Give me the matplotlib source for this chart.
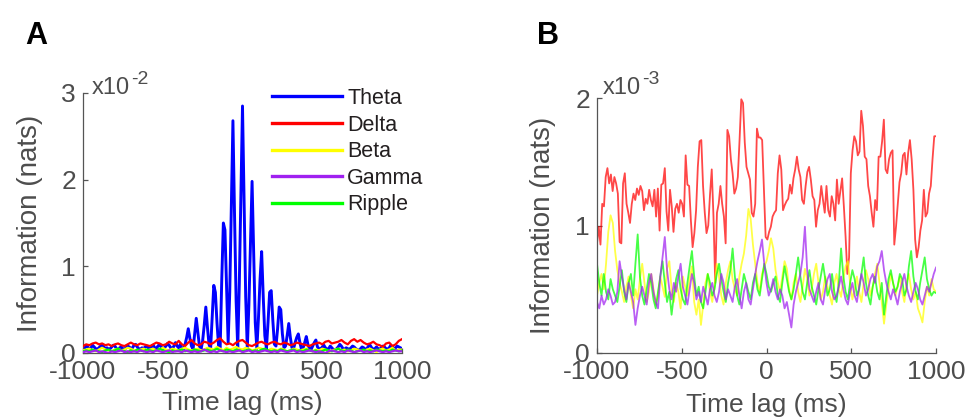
import numpy as np
import matplotlib
matplotlib.use("Agg")
import matplotlib.pyplot as plt

# ---------------- data ----------------
# Panel A (units of 1e-2 nats)
theta_a = [
    0.06,0.05,0.08,0.07,0.04,0.06,0.09,0.07,0.05,0.04,
    0.06,0.08,0.10,0.07,0.05,0.06,0.04,0.05,0.07,0.09,
    0.08,0.05,0.04,0.06,0.07,0.05,0.04,0.06,0.08,0.07,
    0.05,0.06,0.09,0.10,0.07,0.05,0.04,0.06,0.05,0.07,
    0.08,0.06,0.05,0.07,0.09,0.06,0.05,0.08,0.10,0.07,
    0.05,0.06,0.08,0.11,0.09,0.06,0.05,0.08,0.12,0.08,
    # -400 .. 470
    0.06,0.10,0.05,0.04,0.10,0.18,0.28,0.17,0.08,0.04,
    0.22,0.40,0.24,0.08,0.04,0.14,0.32,0.53,0.30,0.10,
    0.05,0.42,0.78,0.70,0.35,0.08,0.06,0.85,1.50,1.42,
    0.75,0.12,0.70,1.70,2.68,1.60,0.60,0.06,0.80,1.80,
    2.85,1.75,0.65,0.05,0.55,1.25,1.98,1.15,0.35,0.05,
    0.40,0.85,1.17,0.65,0.20,0.05,0.35,0.70,0.72,0.38,
    0.10,0.08,0.28,0.53,0.50,0.22,0.06,0.08,0.20,0.34,
    0.18,0.06,0.05,0.12,0.18,0.22,0.12,0.04,0.06,0.12,
    0.19,0.10,0.05,0.04,0.08,0.12,0.15,0.07,
    # 480 .. 1000
    0.05,0.04,0.07,0.09,0.06,0.04,0.05,0.08,0.06,0.04,
    0.03,0.05,0.07,0.10,0.08,0.05,0.04,0.06,0.05,0.04,
    0.06,0.08,0.07,0.05,0.04,0.03,0.05,0.07,0.06,0.04,
    0.05,0.08,0.09,0.06,0.04,0.05,0.07,0.05,0.04,0.06,
    0.08,0.07,0.05,0.04,0.06,0.09,0.07,0.05,0.06,0.08,
    0.07,0.06,0.05,
]
delta_a = [
    0.08,0.10,0.09,0.11,0.12,0.10,0.11,0.09,0.10,0.08,
    0.10,0.11,0.09,0.08,0.10,0.12,0.10,0.09,0.11,0.10,
    0.09,0.08,0.10,0.12,0.11,0.09,0.10,0.13,0.11,0.10,
    0.14,0.10,0.08,0.12,0.15,0.11,0.09,0.10,0.13,0.12,
    0.10,0.12,0.15,0.17,0.13,0.10,0.11,0.09,0.12,0.14,
    0.15,0.12,0.09,0.08,0.10,0.12,0.13,0.11,0.10,0.12,
    0.13,0.11,0.10,0.12,0.11,0.09,0.10,0.12,0.11,0.10,
    0.09,0.08,0.10,0.11,0.12,0.10,0.13,0.14,0.11,0.12,
    0.13,0.15,0.12,0.10,0.14,0.16,0.13,0.15,0.12,0.10,
    0.11,0.13,0.10,0.09,0.07,0.11,0.12,0.08,0.10,0.14,
    0.16,
]
beta_a = [
    0.03,0.04,0.05,0.03,0.02,0.04,0.06,0.04,0.03,0.02,
    0.04,0.05,0.03,0.04,0.06,0.05,0.03,0.02,0.04,0.05,
    0.03,0.04,0.05,0.03,0.04,0.06,0.04,0.03,0.05,0.04,
    0.03,0.05,0.06,0.04,0.03,0.04,0.05,0.03,0.04,0.06,
    0.05,0.04,0.07,0.05,0.03,0.06,0.04,0.05,0.07,0.05,
    0.04,0.06,0.05,0.03,0.04,0.06,0.05,0.04,0.03,0.05,
    0.04,0.03,0.05,0.04,0.02,0.03,0.05,0.04,0.03,0.04,
    0.05,0.03,0.02,0.04,0.03,0.05,0.04,0.01,0.03,0.04,
    0.05,0.03,0.04,0.02,0.03,0.05,0.04,0.03,0.02,0.04,
    0.05,0.03,0.01,0.04,0.05,0.03,0.04,0.06,0.03,0.04,
    0.04,
]
gamma_a = [
    0.01,0.02,0.01,0.02,0.03,0.01,0.02,0.01,0.00,0.02,
    0.01,0.02,0.03,0.01,0.02,0.01,0.02,0.01,0.03,0.02,
    0.01,0.02,0.01,0.03,0.02,0.01,0.02,0.03,0.01,0.02,
    0.02,0.01,0.03,0.02,0.01,0.02,0.01,0.02,0.04,0.02,
    0.01,0.02,0.01,0.03,0.02,0.01,0.02,0.01,0.02,0.03,
    0.01,0.02,0.03,0.01,0.02,0.01,0.02,0.03,0.02,0.01,
    0.02,0.01,0.03,0.02,0.01,0.02,0.03,0.01,0.02,0.01,
    0.02,0.03,0.02,0.01,0.02,0.01,0.00,0.02,0.03,0.02,
    0.01,0.02,0.01,0.03,0.02,0.01,0.02,0.03,0.01,0.02,
    0.01,0.02,0.03,0.02,0.01,0.02,0.01,0.02,0.03,0.02,
    0.02,
]
ripple_a = [
    0.02,0.03,0.02,0.04,0.03,0.02,0.01,0.03,0.04,0.02,
    0.03,0.05,0.03,0.02,0.01,0.03,0.02,0.04,0.03,0.02,
    0.04,0.03,0.02,0.03,0.05,0.03,0.02,0.01,0.03,0.02,
    0.03,0.04,0.02,0.03,0.02,0.04,0.03,0.02,0.03,0.04,
    0.02,0.03,0.05,0.03,0.02,0.04,0.03,0.02,0.04,0.03,
    0.02,0.03,0.04,0.02,0.03,0.02,0.04,0.05,0.03,0.02,
    0.03,0.02,0.04,0.03,0.02,0.03,0.04,0.02,0.03,0.02,
    0.04,0.03,0.02,0.03,0.01,0.02,0.04,0.03,0.02,0.03,
    0.05,0.03,0.02,0.04,0.03,0.01,0.02,0.03,0.04,0.02,
    0.03,0.02,0.04,0.03,0.02,0.03,0.02,0.04,0.03,0.02,
    0.03,
]

# Panel B (units of 1e-3 nats)
delta_b = [
    0.86,0.99,0.85,1.17,1.15,1.38,1.45,1.33,1.40,1.27,
    1.38,1.33,1.25,0.87,0.86,1.33,1.41,1.17,1.10,1.02,
    1.17,1.25,1.20,1.29,1.24,1.31,1.27,1.12,1.21,1.17,
    1.28,1.20,1.15,1.28,1.07,1.29,0.96,1.32,1.33,1.45,
    1.11,0.96,1.28,1.15,0.95,1.13,1.17,1.10,1.20,1.17,
    1.07,1.55,1.32,1.31,1.04,0.83,0.94,1.12,1.46,1.66,
    1.67,1.31,1.10,0.94,1.00,1.24,1.44,1.07,0.55,1.10,
    1.17,1.31,1.17,1.07,0.86,1.75,1.70,1.52,1.41,1.25,
    1.29,1.38,1.67,1.99,1.96,1.65,1.46,1.41,1.36,1.10,
    1.07,1.17,1.76,1.69,1.69,1.67,1.28,0.91,0.89,0.95,
    0.99,1.07,1.10,1.12,1.41,1.55,1.44,1.12,1.16,1.19,
    1.21,1.32,1.25,1.37,1.44,1.54,1.44,1.38,1.20,1.17,
    1.31,1.42,1.46,1.36,1.23,1.20,0.99,1.12,1.17,1.31,
    1.20,1.10,1.31,1.12,1.07,1.23,1.17,1.04,1.36,1.17,
    1.27,1.37,1.15,0.91,0.62,0.75,1.41,1.59,1.70,1.66,
    1.55,1.58,1.90,1.78,1.54,1.52,1.31,1.23,1.10,0.99,
    1.20,1.12,1.54,1.54,1.66,1.83,1.44,1.41,1.52,1.57,
    1.59,0.85,0.99,1.17,1.34,1.41,1.55,1.57,1.40,1.57,
    1.67,1.52,1.28,0.89,0.75,0.83,0.96,1.04,1.28,1.07,
    1.10,1.25,1.31,1.52,1.70,1.70,
]
beta_b = [
    0.45,0.55,0.62,0.50,0.70,0.95,1.08,1.02,0.80,0.65,
    0.55,0.48,0.40,0.52,0.60,0.45,0.35,0.50,0.42,0.58,
    0.70,0.55,0.40,0.48,0.62,0.50,0.38,0.45,0.60,0.52,
    0.44,0.66,0.72,0.50,0.40,0.55,0.48,0.35,0.60,0.52,
    0.45,0.58,0.68,0.40,0.30,0.42,0.22,0.38,0.55,0.62,
    0.48,0.40,0.52,0.70,0.60,0.45,0.38,0.55,0.65,0.72,
    0.58,0.50,0.45,0.60,0.70,0.78,0.92,1.13,1.05,0.85,
    0.70,0.55,0.48,0.62,0.68,0.72,0.80,0.90,0.82,0.65,
    0.55,0.48,0.60,0.72,0.66,0.50,0.42,0.55,0.62,0.48,
    0.40,0.52,0.66,0.58,0.45,0.50,0.62,0.70,0.55,0.42,
    0.48,0.60,0.52,0.45,0.38,0.55,0.62,0.50,0.44,0.58,
    0.68,0.72,0.55,0.42,0.50,0.60,0.48,0.40,0.55,0.65,
    0.58,0.45,0.52,0.62,0.70,0.55,0.40,0.23,0.38,0.50,
    0.62,0.55,0.45,0.52,0.60,0.48,0.40,0.55,0.62,0.50,
    0.42,0.48,0.35,0.30,0.24,0.40,0.52,0.45,0.58,0.50,
    0.48,
]
ripple_b = [
    0.70,0.55,0.45,0.62,0.48,0.42,0.58,0.50,0.45,0.40,
    0.52,0.65,0.48,0.40,0.55,0.62,0.45,0.70,0.93,0.60,
    0.45,0.38,0.50,0.62,0.55,0.42,0.35,0.48,0.60,0.72,
    0.55,0.40,0.48,0.30,0.45,0.58,0.65,0.50,0.42,0.38,
    0.55,0.68,0.80,0.60,0.45,0.52,0.40,0.35,0.48,0.62,
    0.55,0.45,0.50,0.62,0.70,0.58,0.48,0.40,0.55,0.65,
    0.82,0.60,0.45,0.38,0.50,0.62,0.55,0.48,0.42,0.55,
    0.62,0.50,0.45,0.58,0.70,0.62,0.52,0.48,0.55,0.60,
    0.45,0.40,0.55,0.68,0.58,0.48,0.42,0.50,0.62,0.75,
    0.60,0.48,0.42,0.55,0.65,0.52,0.45,0.38,0.50,0.60,
    0.70,0.58,0.45,0.50,0.62,0.48,0.40,0.55,0.82,0.60,
    0.48,0.42,0.55,0.65,0.58,0.45,0.50,0.62,0.75,0.55,
    0.45,0.38,0.52,0.60,0.48,0.42,0.55,0.30,0.45,0.58,
    0.65,0.55,0.48,0.52,0.62,0.58,0.45,0.50,0.68,0.80,
    0.60,0.48,0.42,0.55,0.65,0.75,0.58,0.50,0.45,0.48,
    0.47,
]
gamma_b = [
    0.40,0.35,0.45,0.38,0.42,0.50,0.45,0.38,0.40,0.48,
    0.72,0.60,0.50,0.42,0.55,0.48,0.40,0.22,0.35,0.45,
    0.52,0.45,0.38,0.55,0.62,0.48,0.40,0.35,0.60,0.75,
    0.91,0.65,0.50,0.42,0.55,0.48,0.60,0.70,0.52,0.45,
    0.38,0.50,0.62,0.55,0.42,0.48,0.40,0.52,0.45,0.38,
    0.50,0.55,0.45,0.40,0.48,0.62,0.55,0.42,0.50,0.45,
    0.40,0.52,0.58,0.45,0.35,0.48,0.55,0.42,0.38,0.50,
    0.62,0.72,0.80,0.89,0.70,0.55,0.45,0.50,0.58,0.48,
    0.42,0.50,0.45,0.35,0.40,0.30,0.20,0.38,0.48,0.55,
    0.62,0.75,0.99,0.65,0.50,0.45,0.40,0.48,0.55,0.42,
    0.38,0.50,0.58,0.62,0.48,0.42,0.45,0.52,0.60,0.50,
    0.42,0.38,0.48,0.55,0.45,0.40,0.52,0.62,0.55,0.45,
    0.50,0.58,0.62,0.55,0.68,0.72,0.80,0.65,0.55,0.48,
    0.42,0.50,0.45,0.38,0.48,0.55,0.62,0.52,0.45,0.40,
    0.48,0.55,0.50,0.42,0.38,0.45,0.52,0.48,0.55,0.62,
    0.67,
]

labels = ["Theta", "Delta", "Beta", "Gamma", "Ripple"]
colors = {"Theta": "#0000FF", "Delta": "#FF0000", "Beta": "#FFFF00",
          "Gamma": "#A020F0", "Ripple": "#00FF00"}
xticks = [-1000, -500, 0, 500, 1000]

# ---------------- figure ----------------
plt.rcParams["font.family"] = ["Liberation Sans", "DejaVu Sans"]
plt.rcParams["axes.unicode_minus"] = False
TXT = "#4d4d4d"
fig = plt.figure(figsize=(9.77, 4.2), dpi=100)

def px(x, y):
    return x / 977, 1 - y / 420

axA = fig.add_axes([83/977, 1-353/420, 319/977, 260/420])
axB = fig.add_axes([597/977, 1-353/420, 339/977, 255/420])

def lag(values):
    return np.linspace(-1000, 1000, len(values))

lw_a = 1.6
hT, = axA.plot(lag(theta_a), theta_a, color=colors["Theta"], lw=2.1, zorder=2)
hD, = axA.plot(lag(delta_a), delta_a, color=colors["Delta"], lw=lw_a, zorder=3)
hB, = axA.plot(lag(beta_a), beta_a, color=colors["Beta"], lw=lw_a, zorder=3)
hR, = axA.plot(lag(ripple_a), ripple_a, color=colors["Ripple"], lw=lw_a, zorder=3)
hG, = axA.plot(lag(gamma_a), gamma_a, color=colors["Gamma"], lw=lw_a, zorder=4)

al = 0.72
lw_b = 1.3
axB.plot(lag(delta_b), delta_b, color=colors["Delta"], lw=lw_b, alpha=al)
axB.plot(lag(beta_b), beta_b, color=colors["Beta"], lw=lw_b, alpha=al)
axB.plot(lag(ripple_b), ripple_b, color=colors["Ripple"], lw=lw_b, alpha=al)
axB.plot(lag(gamma_b), gamma_b, color=colors["Gamma"], lw=lw_b, alpha=al)

for ax, ymax, yt in [(axA, 3, [0, 1, 2, 3]), (axB, 2, [0, 1, 2])]:
    ax.set_xlim(-1000, 1000)
    ax.set_ylim(0, ymax)
    ax.set_xticks(xticks)
    ax.set_yticks(yt)
    for s in ["top", "right"]:
        ax.spines[s].set_visible(False)
    for s in ["left", "bottom"]:
        ax.spines[s].set_color("#555555")
        ax.spines[s].set_linewidth(0.9)
    ax.tick_params(direction="in", length=3.5, width=0.9, colors="#555555",
                   labelsize=19, labelcolor=TXT, pad=5)
    ax.set_xlabel("Time lag (ms)", fontsize=19, color=TXT)
    ax.set_ylabel("Information (nats)", fontsize=20, color=TXT)

axA.xaxis.set_label_coords(0.5, -0.148)
axB.xaxis.set_label_coords(0.5, -0.158)
axA.yaxis.set_label_coords(-0.125, 0.5)
axB.yaxis.set_label_coords(-0.12, 0.5)

leg = fig.legend([hT, hD, hB, hG, hR], labels, loc="upper left",
                 bbox_to_anchor=px(272, 88), frameon=False, fontsize=15.5,
                 handlelength=3.25, handletextpad=0.25, labelspacing=0.26,
                 borderpad=0, borderaxespad=0)
for line in leg.get_lines():
    line.set_linewidth(2.4)
for t in leg.get_texts():
    t.set_color("#231f20")

# exponent labels
fig.text(*px(92, 94), "x10", fontsize=17, color=TXT, ha="left", va="baseline")
fig.text(*px(131, 84), "-2", fontsize=14, color=TXT, ha="left", va="baseline")
fig.text(*px(603, 94), "x10", fontsize=17, color=TXT, ha="left", va="baseline")
fig.text(*px(642, 84), "-3", fontsize=14, color=TXT, ha="left", va="baseline")

# panel letters
fig.text(*px(25, 44), "A", fontsize=22, fontweight="bold", color="black",
         ha="left", va="baseline")
fig.text(*px(537, 44), "B", fontsize=22, fontweight="bold", color="black",
         ha="left", va="baseline")

fig.savefig("out.png", dpi=100)
